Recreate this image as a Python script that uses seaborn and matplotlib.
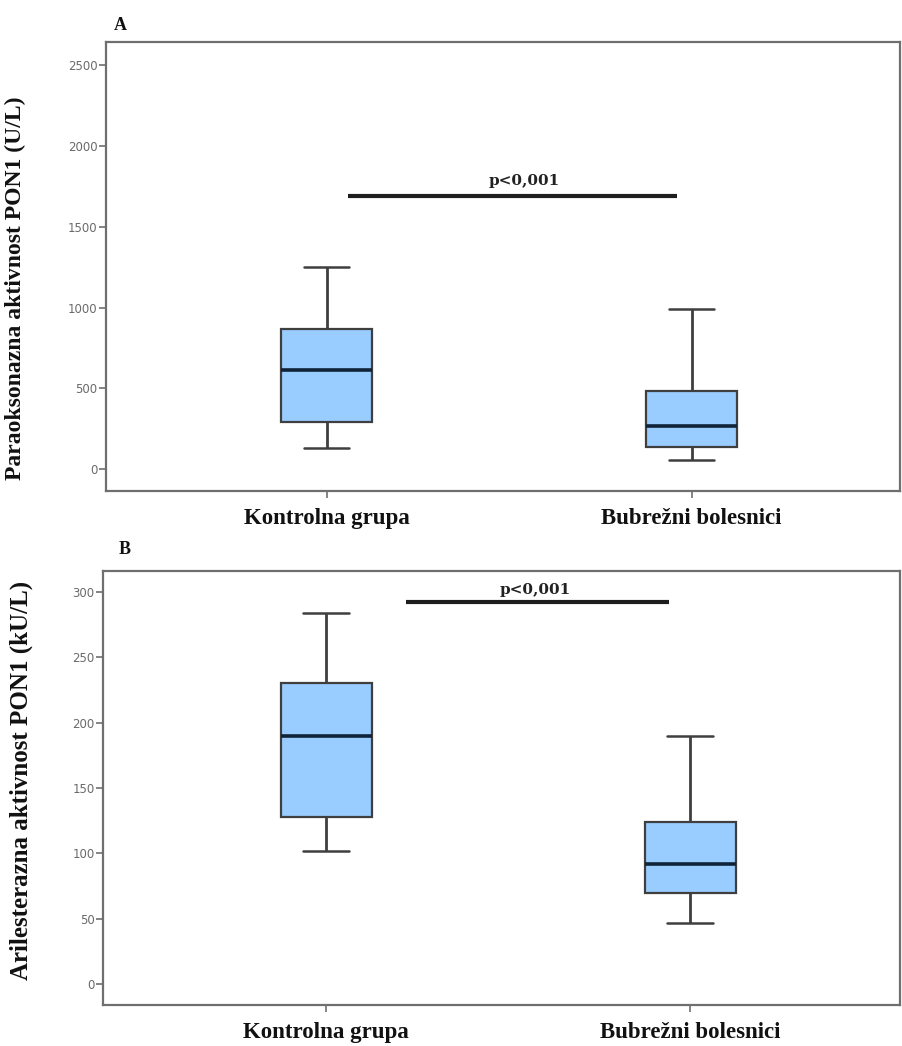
import numpy as np
import pandas as pd
import matplotlib
matplotlib.use("Agg")
import matplotlib.pyplot as plt
import seaborn as sns

# Group names (x categories)
groups = ["Kontrolna grupa", "Bubrežni bolesnici"]

# Five-number summaries: min, Q1, median, Q3, max
paraoxonase_control = [130, 290, 615, 865, 1250]
paraoxonase_renal = [55, 135, 265, 485, 990]
arylesterase_control = [102, 128, 190, 230, 284]
arylesterase_renal = [47, 70, 92, 124, 190]

# Axis ticks
pon_ticks = [0, 500, 1000, 1500, 2000, 2500]
are_ticks = [0, 50, 100, 150, 200, 250, 300]

p_text = "p<0,001"

sns.set_theme(style="white")
plt.rcParams["font.family"] = ["DejaVu Sans"]

BOX_FILL = "#99ccff"
EDGE = "#3f3f3f"
SPINE = "#6f6f6f"
SERIF = ["Liberation Serif", "DejaVu Serif"]

fig = plt.figure(figsize=(9.03, 10.46), dpi=100)
ax_a = fig.add_axes([0.1174, 0.5306, 0.8793, 0.4292])
ax_b = fig.add_axes([0.1141, 0.0392, 0.8826, 0.4149])


def frame(df, ax):
    sns.boxplot(
        data=df, x="group", y="value", order=groups, ax=ax,
        width=0.25, color=BOX_FILL, saturation=1, whis=(0, 100),
        showfliers=False, linecolor=EDGE, linewidth=1.6,
        whiskerprops=dict(linewidth=2.0, color=EDGE),
        capprops=dict(linewidth=1.8, color=EDGE),
        medianprops=dict(linewidth=2.6, color="#102338"),
    )
    for sp in ax.spines.values():
        sp.set_visible(True)
        sp.set_color(SPINE)
        sp.set_linewidth(1.6)
    ax.set_xlabel("")
    ax.tick_params(axis="y", which="both", left=True, length=5, width=1.2,
                   color=SPINE, labelsize=8.5, labelcolor="#6a6a6a", pad=1)
    ax.tick_params(axis="x", which="both", bottom=True, length=5, width=1.2,
                   color=SPINE, pad=7)
    for lab in ax.get_xticklabels():
        lab.set_fontfamily(SERIF)
        lab.set_fontweight("bold")
        lab.set_fontsize(16.5)
        lab.set_color("#111111")


def bracket(ax, x0, x1, y, xt, dy_pt):
    ax.plot([x0, x1], [y, y], color="#1e1e1e", linewidth=3, solid_capstyle="butt")
    ax.annotate(p_text, xy=(xt, y), xytext=(0, dy_pt), textcoords="offset points",
                ha="center", va="center", fontsize=11, fontweight="bold",
                family=["DejaVu Serif"], color="#222222")


# Panel A: paraoxonase activity
df_a = pd.DataFrame({
    "group": [groups[0]] * 5 + [groups[1]] * 5,
    "value": paraoxonase_control + paraoxonase_renal,
})
frame(df_a, ax_a)
ax_a.set_xlim(-0.604, 1.571)
ax_a.set_ylim(-136, 2644)
ax_a.set_yticks(pon_ticks)
ax_a.set_ylabel("Paraoksonazna aktivnost PON1 (U/L)", family=SERIF,
                fontweight="bold", fontsize=17, color="#111111")
ax_a.yaxis.set_label_coords(-0.1008, 0.452)
bracket(ax_a, 0.06, 0.959, 1690, 0.541, 10.8)

# Panel B: arylesterase activity
df_b = pd.DataFrame({
    "group": [groups[0]] * 5 + [groups[1]] * 5,
    "value": arylesterase_control + arylesterase_renal,
})
frame(df_b, ax_b)
ax_b.set_xlim(-0.613, 1.577)
ax_b.set_ylim(-16, 316)
ax_b.set_yticks(are_ticks)
ax_b.set_ylabel("Arilesterazna aktivnost PON1 (kU/L)", family=SERIF,
                fontweight="bold", fontsize=18, color="#111111")
ax_b.yaxis.set_label_coords(-0.088, 0.518)
bracket(ax_b, 0.22, 0.942, 292, 0.574, 8.6)

fig.text(0.133, 0.976, "A", family=SERIF, fontweight="bold", fontsize=13,
         ha="center", va="center", color="#111111")
fig.text(0.138, 0.475, "B", family=SERIF, fontweight="bold", fontsize=13,
         ha="center", va="center", color="#111111")

fig.savefig("out.png", dpi=100, facecolor="white")
